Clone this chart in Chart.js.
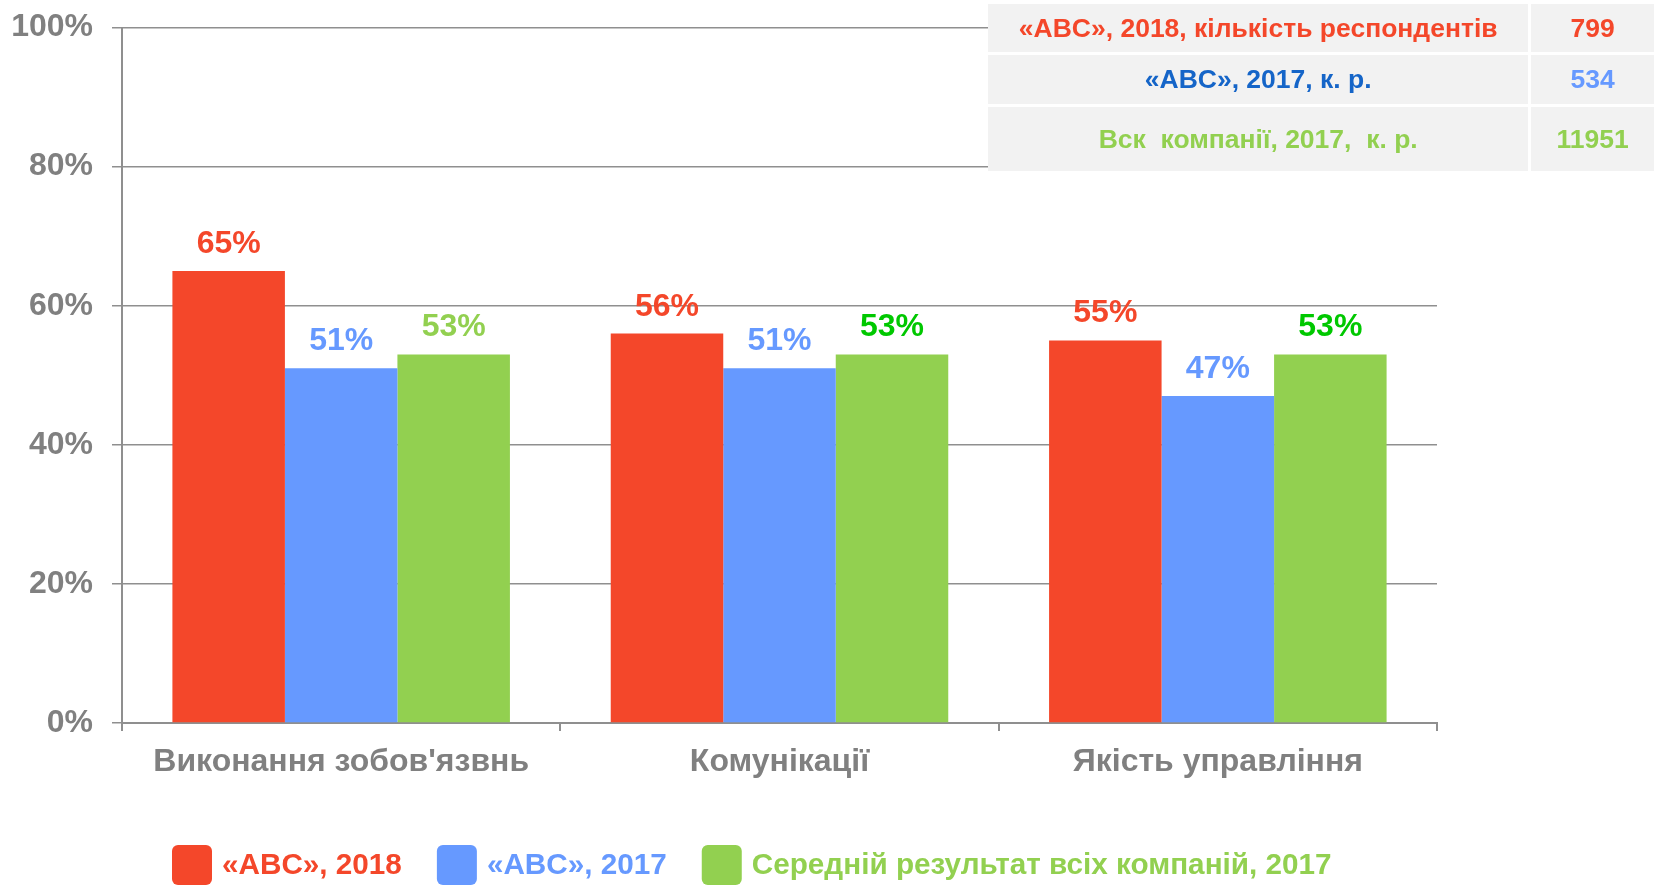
<!DOCTYPE html>
<html lang="uk">
<head>
<meta charset="utf-8">
<title>Оцінка компанії</title>
<script src="https://cdn.jsdelivr.net/npm/chart.js@4/dist/chart.umd.min.js"></script>
<style>
  html, body { margin: 0; padding: 0; background: #fff; overflow: hidden; }
  #wrap { position: relative; width: 1657px; height: 886px; }
  #chart { position: absolute; left: 0; top: 0; }
  #sample-table {
    position: absolute;
    left: 985px;
    top: 1px;
    border-collapse: separate;
    border-spacing: 3px;
    font-family: "Liberation Sans", Arial, sans-serif;
    font-weight: bold;
    font-size: 26.5px;
    white-space: pre;
  }
  #sample-table td { background: #f2f2f2; text-align: center; padding: 0; }
  #sample-table td.name { width: 542px; }
  #sample-table td.count { width: 124px; }
</style>
</head>
<body>
<div id="wrap">
  <canvas id="chart" width="1657" height="886"></canvas>
  <table id="sample-table"><tbody></tbody></table>
</div>
<script>
const categories = ["Виконання зобов'язвнь", "Комунікації", "Якість управління"];
const seriesNames = ["«ABC», 2018", "«ABC», 2017", "Середній результат всіх компаній, 2017"];
const abc2018 = [65, 56, 55];
const abc2017 = [51, 51, 47];
const allCompanies2017 = [53, 53, 53];

const sampleLabels = ["«ABC», 2018, кількість респондентів", "«ABC», 2017, к. р.", "Вск  компанії, 2017,  к. р."];
const sampleSizes = [799, 534, 11951];

const RED = "#f4472a";
const BLUE = "#6699ff";
const GREEN = "#92d050";
const GRAY = "#808080";
const FONT = '"Liberation Sans", Arial, sans-serif';

// value label colours per bar (the average series is brighter in the last two groups)
const labelColors = [
  [RED, RED, RED],
  [BLUE, BLUE, BLUE],
  [GREEN, "#00c800", "#00c800"],
];

// respondent counts table
const tableColors = [[RED, RED], ["#1565c8", BLUE], [GREEN, GREEN]];
const rowHeights = [48, 49, 64];
const tbody = document.querySelector("#sample-table tbody");
sampleLabels.forEach((label, i) => {
  const tr = document.createElement("tr");
  tr.style.height = rowHeights[i] + "px";
  const name = document.createElement("td");
  name.className = "name";
  name.textContent = label;
  name.style.color = tableColors[i][0];
  const count = document.createElement("td");
  count.className = "count";
  count.textContent = sampleSizes[i];
  count.style.color = tableColors[i][1];
  tr.append(name, count);
  tbody.appendChild(tr);
});

const valueLabels = {
  id: "valueLabels",
  afterDatasetsDraw(chart) {
    const ctx = chart.ctx;
    ctx.save();
    ctx.font = `bold 32px ${FONT}`;
    ctx.textAlign = "center";
    ctx.textBaseline = "alphabetic";
    chart.data.datasets.forEach((ds, i) => {
      chart.getDatasetMeta(i).data.forEach((bar, j) => {
        ctx.fillStyle = labelColors[i][j];
        ctx.fillText(ds.data[j] + "%", bar.x, bar.y - 18);
      });
    });
    ctx.restore();
  },
};

const bottomLegend = {
  id: "bottomLegend",
  afterDraw(chart) {
    const ctx = chart.ctx;
    ctx.save();
    ctx.font = `bold 29.7px ${FONT}`;
    ctx.textBaseline = "middle";
    ctx.textAlign = "left";
    let x = 172;
    const boxTop = 845;
    const box = 40;
    chart.data.datasets.forEach((ds) => {
      ctx.fillStyle = ds.backgroundColor;
      ctx.beginPath();
      ctx.roundRect(x, boxTop, box, box, 6);
      ctx.fill();
      x += box + 10;
      ctx.fillText(ds.label, x, boxTop + box / 2 + 1);
      x += ctx.measureText(ds.label).width + 35;
    });
    ctx.restore();
  },
};

new Chart(document.getElementById("chart"), {
  type: "bar",
  data: {
    labels: categories,
    datasets: [
      { label: seriesNames[0], data: abc2018, backgroundColor: RED },
      { label: seriesNames[1], data: abc2017, backgroundColor: BLUE },
      { label: seriesNames[2], data: allCompanies2017, backgroundColor: GREEN },
    ],
  },
  options: {
    responsive: false,
    animation: false,
    layout: { padding: { top: 27.5, right: 220, left: 0, bottom: 0 } },
    datasets: { bar: { categoryPercentage: 0.77, barPercentage: 1.0, borderWidth: 0 } },
    plugins: { legend: { display: false }, tooltip: { enabled: false } },
    scales: {
      x: {
        grid: { drawOnChartArea: false, drawTicks: true, tickLength: 8, color: "#8f8f8f", lineWidth: 2 },
        border: { display: true, color: "#8f8f8f", width: 2 },
        ticks: { color: GRAY, padding: 12, font: { family: FONT, size: 32, weight: "bold" } },
        afterFit: (scale) => { scale.height = 163; },
      },
      y: {
        min: 0,
        max: 100,
        ticks: {
          stepSize: 20,
          color: GRAY,
          padding: 19,
          font: { family: FONT, size: 32, weight: "bold" },
          callback: (v) => v + "%",
        },
        grid: { color: "#8f8f8f", lineWidth: 1.5, tickLength: 10 },
        border: { display: true, color: "#8f8f8f", width: 2 },
        afterFit: (scale) => {
          scale.width = 122;
          // top label may overflow the canvas edge a little; don't reserve room for it
          scale.paddingTop = 0;
          scale.paddingBottom = 0;
        },
      },
    },
  },
  plugins: [valueLabels, bottomLegend],
});
</script>
</body>
</html>
